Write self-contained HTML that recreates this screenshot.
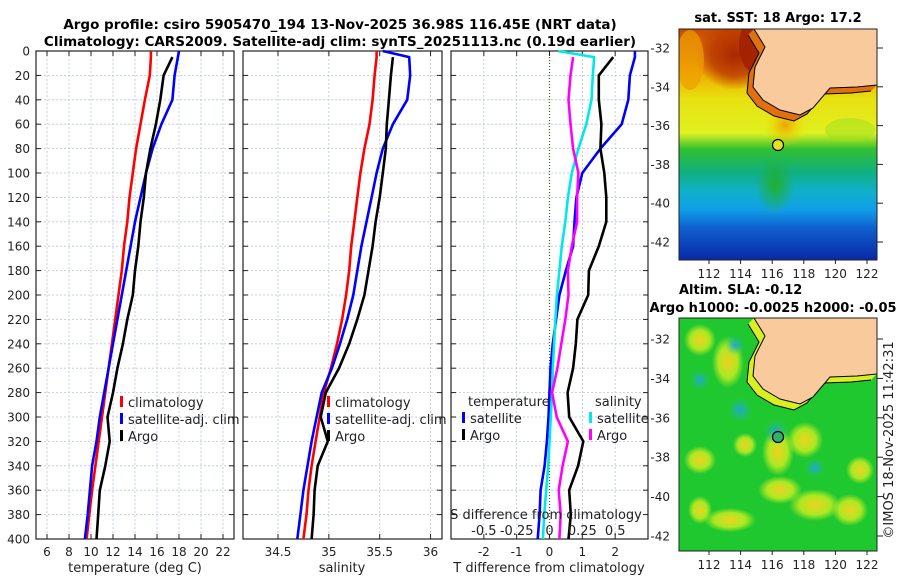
<!DOCTYPE html>
<html><head><meta charset="utf-8"><style>
body{margin:0;background:#fff;}
svg{display:block;font-family:"DejaVu Sans","Liberation Sans",sans-serif;}
</style></head><body>
<svg id="c" width="900" height="580" viewBox="0 0 900 580">
<defs>
<linearGradient id="sst" x1="0" y1="0" x2="0" y2="1">
<stop offset="0" stop-color="#c84a00"/><stop offset="0.12" stop-color="#e07810"/><stop offset="0.2" stop-color="#f0b000"/>
<stop offset="0.3" stop-color="#e8e010"/><stop offset="0.45" stop-color="#e0f020"/><stop offset="0.52" stop-color="#30c030"/>
<stop offset="0.62" stop-color="#10b080"/><stop offset="0.7" stop-color="#10b0c8"/><stop offset="0.78" stop-color="#10a0e8"/>
<stop offset="0.86" stop-color="#1060d0"/><stop offset="1" stop-color="#0828a8"/></linearGradient>
<radialGradient id="red1"><stop offset="0" stop-color="#a82800"/><stop offset="0.6" stop-color="#b83800" stop-opacity="0.8"/><stop offset="1" stop-color="#b83800" stop-opacity="0"/></radialGradient>
<radialGradient id="yel"><stop offset="0" stop-color="#f0d020"/><stop offset="0.6" stop-color="#d0f020" stop-opacity="0.8"/><stop offset="1" stop-color="#d0f020" stop-opacity="0"/></radialGradient>
<radialGradient id="cyn"><stop offset="0" stop-color="#20a8d0"/><stop offset="1" stop-color="#20b8a0" stop-opacity="0"/></radialGradient>
<radialGradient id="orn"><stop offset="0" stop-color="#f0a000"/><stop offset="1" stop-color="#f0e000" stop-opacity="0"/></radialGradient>
<radialGradient id="grn"><stop offset="0" stop-color="#20b030"/><stop offset="1" stop-color="#20b030" stop-opacity="0"/></radialGradient>
<clipPath id="m1"><rect x="679" y="29" width="198" height="231"/></clipPath>
<clipPath id="m2"><rect x="679" y="318" width="198" height="233"/></clipPath>
</defs>
<g id="plots"></g>
</svg>
<script>
const depths=[0,5,20,40,60,80,100,120,140,160,180,200,220,240,260,280,300,320,340,360,380,400];
const tempClim=[15.45,15.45,15.35,14.9,14.5,14.1,13.8,13.5,13.3,13.0,12.8,12.5,12.2,11.9,11.6,11.3,11.0,10.7,10.4,10.1,9.85,9.6];
const tempSat=[18.0,17.9,17.6,17.4,16.4,15.6,15.0,14.5,14.0,13.6,13.2,12.8,12.4,12.0,11.6,11.2,10.8,10.5,10.1,9.9,9.7,9.45];
const tempArgo=[null,17.4,16.6,16.3,15.9,15.4,15.0,14.8,14.5,14.3,14.0,13.8,13.3,12.9,12.4,12.0,11.5,11.7,11.3,10.8,10.65,10.5];
const salClim=[35.47,35.47,35.45,35.43,35.4,35.35,35.31,35.28,35.25,35.22,35.2,35.17,35.13,35.08,35.02,34.95,34.91,34.87,34.83,34.8,34.78,34.75];
const salSat=[35.53,35.79,35.8,35.77,35.63,35.53,35.47,35.42,35.37,35.32,35.28,35.24,35.18,35.11,35.03,34.93,34.88,34.83,34.79,34.75,34.72,34.69];
const salArgo=[null,35.63,35.61,35.59,35.57,35.56,35.53,35.5,35.46,35.43,35.39,35.35,35.28,35.2,35.1,34.97,34.92,34.99,34.89,34.86,34.85,34.83];
const dTsat=[2.6,2.6,2.45,2.4,2.2,1.55,1.0,0.82,0.76,0.72,0.5,0.3,0.2,0.1,0.03,0.0,-0.03,-0.08,-0.15,-0.27,-0.3,-0.36];
const dTargo=[null,1.94,1.5,1.5,1.58,1.55,1.67,1.73,1.73,1.5,1.2,1.18,0.85,0.8,0.72,0.55,0.6,1.03,0.87,0.6,0.65,0.58];
const dSsat=[0.065,0.34,0.33,0.32,0.28,0.22,0.17,0.14,0.12,0.094,0.075,0.056,0.045,0.035,0.025,0.02,0.01,0.0,-0.01,-0.025,-0.04,-0.05];
const dSargo=[null,0.18,0.16,0.145,0.16,0.18,0.22,0.21,0.21,0.17,0.14,0.145,0.12,0.09,0.06,0.02,0.055,0.14,0.1,0.07,0.085,0.075];
const yTicks=[0,20,40,60,80,100,120,140,160,180,200,220,240,260,280,300,320,340,360,380,400];
const tTicks=[6,8,10,12,14,16,18,20,22];
const sTicks=[34.5,35,35.5,36];
const dtTicks=[-2,-1,0,1,2];
const dsTicks=[-0.5,-0.25,0,0.25,0.5];
const dsTickLabels=["-0.5","-0.25","0","0.25","0.5"];

const NS="http://www.w3.org/2000/svg";
const root=document.getElementById('plots');
function mk(t,a,p){const e=document.createElementNS(NS,t);for(const k in a)e.setAttribute(k,a[k]);(p||root).appendChild(e);return e;}
function txt(s,x,y,a,p){const e=mk('text',Object.assign({x:x,y:y,'font-size':12,fill:'#222'},a||{}),p);e.textContent=s;return e;}
const Y0=51,Y1=539;
const yS=d=>Y0+(d/400)*(Y1-Y0);
const panels=[
 {x0:36,x1:234,lo:5,hi:23,ticks:tTicks,name:'temperature-panel'},
 {x0:243,x1:442,lo:34.5-35/101.7,hi:34.5+164/101.7,ticks:sTicks,name:'salinity-panel'},
 {x0:451,x1:648,lo:-3,hi:3,ticks:dtTicks,name:'difference-panel'}];
panels.forEach(p=>{p.x=v=>p.x0+(v-p.lo)/(p.hi-p.lo)*(p.x1-p.x0);});
const P3=panels[2];
const xS3=v=>P3.x(v*4);

panels.forEach((p,i)=>{
 const g=mk('g',{});
 
 
 mk('rect',{x:p.x0,y:Y0,width:p.x1-p.x0,height:Y1-Y0,fill:'#fff'},g);
 yTicks.forEach(d=>{const l=mk('line',{x1:p.x0,x2:p.x1,y1:yS(d),y2:yS(d),stroke:'#b8c4e0','stroke-width':0.8,'stroke-dasharray':'2,2'},g);
  
  mk('line',{x1:p.x0,x2:p.x0+5,y1:yS(d),y2:yS(d),stroke:'#222'},g);mk('line',{x1:p.x1-5,x2:p.x1,y1:yS(d),y2:yS(d),stroke:'#222'},g);});
 p.ticks.forEach(t=>{const l=mk('line',{x1:p.x(t),x2:p.x(t),y1:Y0,y2:Y1,stroke:(i==2&&t==0)?'#406020':'#b8c4e0','stroke-width':(i==2&&t==0)?1.2:0.8,'stroke-dasharray':(i==2&&t==0)?'1,2':'2,2'},g);
  
  mk('line',{x1:p.x(t),x2:p.x(t),y1:Y1-5,y2:Y1,stroke:'#222'},g);mk('line',{x1:p.x(t),x2:p.x(t),y1:Y0,y2:Y0+5,stroke:'#222'},g);
  const lb=txt(String(t),p.x(t),556,{'text-anchor':'middle'},g);});
 mk('rect',{x:p.x0,y:Y0,width:p.x1-p.x0,height:Y1-Y0,fill:'none',stroke:'#222','stroke-width':1.2},g);
});
yTicks.forEach(d=>{const l=txt(String(d),30,yS(d)+4.5,{'text-anchor':'end'});});

function line(xf,vals,color,name){
 let pts=[];depths.forEach((d,i)=>{if(vals[i]!==null)pts.push(xf(vals[i]).toFixed(1)+','+yS(d).toFixed(1));});
 const e=mk('polyline',{points:pts.join(' '),fill:'none',stroke:color,'stroke-width':2.6,'stroke-linejoin':'round'});
 }
line(panels[0].x,tempClim,'#ff0000','temp-climatology-line');
line(panels[0].x,tempSat,'#0000ff','temp-satellite-line');
line(panels[0].x,tempArgo,'#000','temp-argo-line');
line(panels[1].x,salClim,'#ff0000','sal-climatology-line');
line(panels[1].x,salSat,'#0000ff','sal-satellite-line');
line(panels[1].x,salArgo,'#000','sal-argo-line');
line(P3.x,dTsat,'#0000ff','dt-satellite-line');
line(P3.x,dTargo,'#000','dt-argo-line');
line(xS3,dSsat,'#00e8e8','ds-satellite-line');
line(xS3,dSargo,'#ff00ff','ds-argo-line');

function legend(x,y,items,name){const g=mk('g',{});
 items.forEach((it,i)=>{if(it[1])mk('rect',{x:x,y:y+i*17-11,width:3,height:11,fill:it[1]},g);txt(it[0],x+(it[1]?8:6),y+i*17,{'font-size':13},g);});}
legend(120,407,[['climatology','#ff0000'],['satellite-adj. clim','#0000ff'],['Argo','#000']],'temp-legend');
legend(327,407,[['climatology','#ff0000'],['satellite-adj. clim','#0000ff'],['Argo','#000']],'sal-legend');
legend(462,406,[['temperature',null],['satellite','#0000ff'],['Argo','#000']],'dt-legend');
legend(589,406,[['salinity',null],['satellite','#00e8e8'],['Argo','#ff00ff']],'ds-legend');
txt('S difference from climatology',546,519,{'text-anchor':'middle','font-size':13});
dsTicks.forEach((t,i)=>{const l=txt(dsTickLabels[i],xS3(t),535,{'text-anchor':'middle','font-size':13});});
[['temperature (deg C)',135],['salinity',342],['T difference from climatology',549]].forEach(a=>{const l=txt(a[0],a[1],572,{'text-anchor':'middle','font-size':13});});
const t1=txt('Argo profile: csiro 5905470_194 13-Nov-2025 36.98S 116.45E (NRT data)',340,29,{'text-anchor':'middle','font-size':13.5,'font-weight':'bold',fill:'#000'});
const t2=txt('Climatology: CARS2009. Satellite-adj clim: synTS_20251113.nc (0.19d earlier)',340,46,{'text-anchor':'middle','font-size':13.5,'font-weight':'bold',fill:'#000'});

function mapFrame(top,bottom,kind){
 const g=mk('g',{});
 const clip=kind=='sst'?'url(#m1)':'url(#m2)';const f=mk('g',{'clip-path':clip},g);const dy=top-29;
 if(kind=='sst'){
  mk('rect',{x:679,y:top,width:198,height:bottom-top,fill:'url(#sst)'},f);
  mk('ellipse',{cx:735,cy:55,rx:40,ry:35,fill:'url(#red1)'},f);
  mk('ellipse',{cx:755,cy:45,rx:16,ry:28,fill:'#a02000',opacity:0.85},f);
  mk('ellipse',{cx:690,cy:60,rx:14,ry:30,fill:'#f0a000',opacity:0.7},f);
  mk('ellipse',{cx:785,cy:125,rx:22,ry:22,fill:'url(#orn)'},f);
  mk('ellipse',{cx:775,cy:185,rx:20,ry:30,fill:'url(#grn)'},f);
  mk('ellipse',{cx:850,cy:130,rx:25,ry:12,fill:'#a0e020',opacity:0.5},f);
 } else {
  mk('rect',{x:679,y:top,width:198,height:bottom-top,fill:'#20c830'},f);
  [[700,340,16,16,'yel'],[728,362,16,26,'yel'],[745,445,12,12,'yel'],[805,440,18,18,'yel'],[778,452,16,24,'yel'],[780,490,22,14,'yel'],[815,505,26,16,'yel'],[700,460,16,14,'yel'],[730,520,26,12,'yel'],[850,510,18,16,'yel'],[860,470,14,14,'yel'],[700,510,12,14,'yel'],
   [740,410,12,12,'cyn'],[776,432,12,12,'cyn'],[815,468,10,10,'cyn'],[735,345,10,10,'cyn'],[700,380,10,10,'cyn']].forEach(b=>mk('ellipse',{cx:b[0],cy:b[1],rx:b[2],ry:b[3],fill:'url(#'+b[4]+')'},f));
 }
 const coast=[[754,29],[765,47],[755,67],[753,87],[763,100],[780,110],[800,115],[813,108],[830,88],[857,87],[877,85]];
 const band=coast.map(p=>[p[0]-6,p[1]+6]);
 const sh=a=>a.map(p=>p[0]+','+(p[1]+dy)).join(' ');
 mk('polygon',{points:sh(coast)+' '+sh(band.slice().reverse()),fill:kind=='sst'?'#e07010':'#d8f020'},f);
 mk('polyline',{points:sh(band),fill:'none',stroke:'#000','stroke-width':1},f);
 const land=mk('polygon',{points:sh(coast)+' 877,'+(29+dy),fill:'#f9cb9c',stroke:'#000','stroke-width':1},f);
 
 const c=mk('circle',{cx:778,cy:kind=='sst'?145:437,r:5.5,fill:kind=='sst'?'#e8e020':'#30b070',stroke:'#000','stroke-width':1.2},g);
 
 mk('rect',{x:679,y:top,width:198,height:bottom-top,fill:'none',stroke:'#222','stroke-width':1},g);
 const latTop=kind=='sst'?48:339, latPx=kind=='sst'?19.4:19.7;
 [-32,-34,-36,-38,-40,-42].forEach((l,i)=>{const y=latTop+i*2*latPx;txt(String(l),670,y+4.5,{'text-anchor':'end'},g);
  mk('line',{x1:877,x2:883,y1:y,y2:y,stroke:'#222'},g);});
 [112,114,116,118,120,122].forEach((l,i)=>{const x=709+i*31.6;txt(String(l),x,bottom+18,{'text-anchor':'middle'},g);
  mk('line',{x1:x,x2:x,y1:bottom,y2:bottom+4,stroke:'#222'},g);});
}
mapFrame(29,260,'sst');
mapFrame(318,551,'sla');
const m1=txt('sat. SST: 18 Argo: 17.2',778,22,{'text-anchor':'middle','font-size':13,'font-weight':'bold',fill:'#000'});
const m2=txt('Altim. SLA: -0.12',679,294,{'font-size':13,'font-weight':'bold',fill:'#000'});
const m3=txt('Argo h1000: -0.0025 h2000: -0.05',773,312,{'text-anchor':'middle','font-size':13,'font-weight':'bold',fill:'#000'});
const cr=txt('©IMOS 18-Nov-2025 11:42:31',0,0,{'text-anchor':'middle','font-size':13,transform:'translate(893,440) rotate(-90)'});
</script>
</body></html>
